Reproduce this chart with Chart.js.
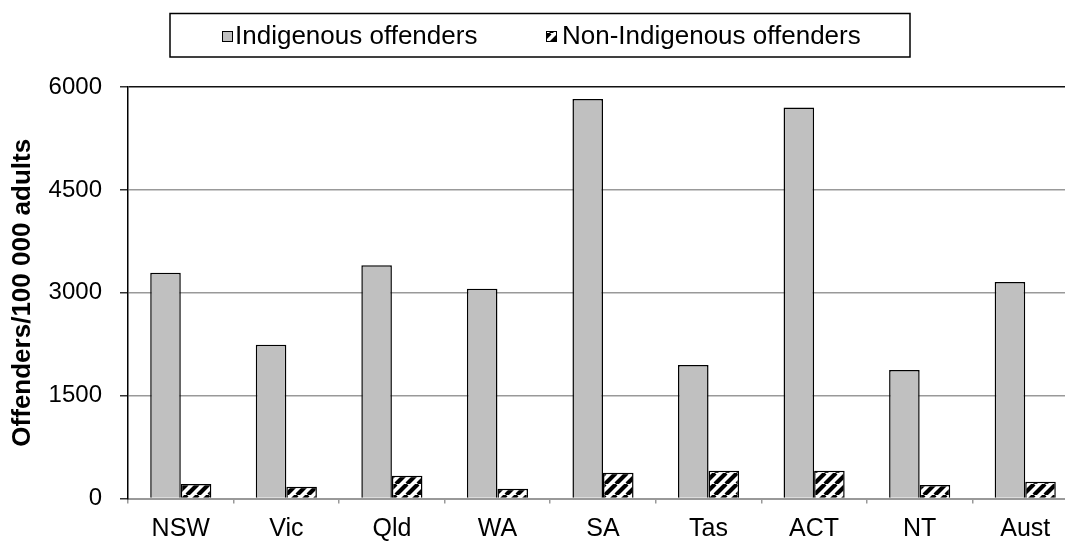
<!DOCTYPE html>
<html>
<head>
<meta charset="utf-8">
<script src="https://cdn.jsdelivr.net/npm/chart.js@4"></script>
<style>
  html, body { margin: 0; padding: 0; background: #fff; overflow: hidden; }
  #wrap { width: 1065px; height: 541px; overflow: hidden; position: relative; }
  canvas { display: block; }
</style>
</head>
<body>
<!-- the original plot runs a little past the right edge, so the canvas is wider and clipped -->
<div id="wrap">
  <canvas id="offenders" width="1078" height="541"></canvas>
</div>
<script>
// data
const states = ['NSW', 'Vic', 'Qld', 'WA', 'SA', 'Tas', 'ACT', 'NT', 'Aust'];
const indigenousRate = [3290, 2240, 3400, 3060, 5825, 1945, 5700, 1875, 3155];
const nonIndigenousRate = [212, 172, 333, 143, 376, 406, 406, 197, 245];
const yTicks = [0, 1500, 3000, 4500, 6000];
const seriesNames = ['Indigenous offenders', 'Non-Indigenous offenders'];

const FONT = 'Liberation Sans, Arial, sans-serif';

// diagonal black stripes on white
function makeHatch() {
  const size = 11;
  const c = document.createElement('canvas');
  c.width = size;
  c.height = size;
  const g = c.getContext('2d');
  g.fillStyle = '#fff';
  g.fillRect(0, 0, size, size);
  g.strokeStyle = '#000';
  g.lineWidth = 4.2;
  g.beginPath();
  for (const k of [-size, 0, size]) {
    g.moveTo(k, size);
    g.lineTo(k + size, 0);
  }
  g.stroke();
  return g.createPattern(c, 'repeat');
}

const hatch = makeHatch();
const greyFill = '#c0c0c0';

// legend in a framed box, drawn by hand (Chart.js legend has no frame)
const boxLegend = {
  id: 'boxLegend',
  afterDraw(chart) {
    const ctx = chart.ctx;
    const items = [
      { x: 222, textX: 235, fill: greyFill },
      { x: 546, textX: 562, fill: hatch }
    ];
    const midY = 36;

    ctx.save();
    ctx.strokeStyle = '#000';
    ctx.lineWidth = 1.5;
    ctx.strokeRect(170, 13.5, 740, 43.5);

    ctx.font = '26px ' + FONT;
    ctx.textBaseline = 'middle';
    ctx.textAlign = 'left';

    items.forEach((it, i) => {
      ctx.fillStyle = it.fill;
      ctx.fillRect(it.x, midY - 5, 11, 11);
      ctx.lineWidth = 1;
      ctx.strokeStyle = '#000';
      ctx.strokeRect(it.x + 0.5, midY - 4.5, 10, 10);
      ctx.fillStyle = '#000';
      ctx.fillText(seriesNames[i], it.textX, midY + 1);
    });
    ctx.restore();
  }
};

new Chart(document.getElementById('offenders'), {
  type: 'bar',
  data: {
    labels: states,
    datasets: [
      {
        label: seriesNames[0],
        data: indigenousRate,
        backgroundColor: greyFill,
        borderColor: '#000',
        borderWidth: 1.5,
        borderSkipped: 'bottom'
      },
      {
        label: seriesNames[1],
        data: nonIndigenousRate,
        backgroundColor: hatch,
        borderColor: '#000',
        borderWidth: 1.5,
        borderSkipped: 'bottom'
      }
    ]
  },
  options: {
    responsive: false,
    animation: false,
    layout: { padding: { top: 87, left: 0, right: 0, bottom: 0 } },
    datasets: {
      bar: { categoryPercentage: 0.579, barPercentage: 1 }
    },
    plugins: {
      legend: { display: false },
      tooltip: { enabled: false }
    },
    scales: {
      x: {
        afterFit(scale) { scale.height = 42.5; },
        grid: {
          drawOnChartArea: false,
          drawTicks: true,
          tickLength: 5,
          color: '#999',
          lineWidth: 1.5
        },
        border: { color: '#999', width: 2 },
        ticks: {
          padding: 12,
          color: '#000',
          font: { family: FONT, size: 25, lineHeight: 1.05 }
        }
      },
      y: {
        min: 0,
        max: 6000,
        afterBuildTicks(scale) {
          scale.ticks = yTicks.map(v => ({ value: v }));
        },
        afterFit(scale) { scale.width = 128; },
        grid: {
          color: ctx => (ctx.tick && ctx.tick.value === 6000 ? '#111' : '#999'),
          lineWidth: 1.5,
          tickColor: '#333',
          tickLength: 8
        },
        border: { color: '#000', width: 1.5 },
        ticks: {
          padding: 18,
          color: '#000',
          font: { family: FONT, size: 24 },
          callback: v => String(v)
        },
        title: {
          display: true,
          text: 'Offenders/100 000 adults',
          color: '#000',
          font: { family: FONT, size: 26, weight: 'bold' },
          padding: { top: 7, bottom: 10 }
        }
      }
    }
  },
  plugins: [boxLegend]
});
</script>
</body>
</html>
